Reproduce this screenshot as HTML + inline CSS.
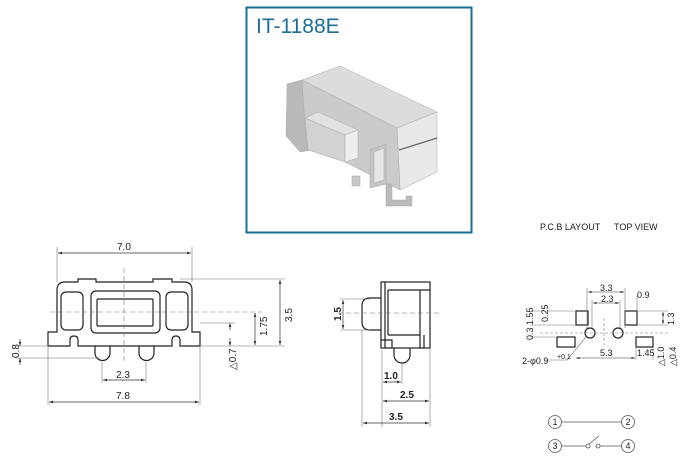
<!DOCTYPE html>
<html><head><style>
html,body{margin:0;padding:0;background:#fff;width:700px;height:468px;overflow:hidden}
svg{display:block;font-family:"Liberation Sans",Arial,sans-serif}
</style></head><body>
<svg width="700" height="468" viewBox="0 0 700 468" xmlns="http://www.w3.org/2000/svg">
<defs>
<marker id="a" markerWidth="6" markerHeight="6" refX="6" refY="3" orient="auto-start-reverse"><path d="M0,1 L6,3 L0,5z" fill="#333"/></marker>
</defs>
<!-- photo box -->
<rect x="246.5" y="7.5" width="225" height="225" fill="#fff" stroke="#1d6e93" stroke-width="2"/>
<text x="256" y="33" font-size="21" fill="#1d6e93">IT-1188E</text>
<g stroke="#aaa" stroke-width="0.5">
<polygon points="302,80 340,66 437,112 397,128" fill="#dcdcdc"/>
<polygon points="397,128 437,112 437,172 400,190" fill="#e8e8e8"/>
<line x1="399" y1="150" x2="437" y2="138" stroke="#666" stroke-width="1.2"/>
<polygon points="302,80 397,128 400,190 302,140" fill="#cbcbcb"/>
<polygon points="287,84 302,80 306,140 312,150 300,152 286,136" fill="#b9b9b9"/>
<polygon points="305,118 318,112 358,130 345,135" fill="#e2e2e2"/>
<polygon points="305,118 345,135 345,162 308,150" fill="#d2d2d2"/>
<polygon points="345,135 358,130 358,158 345,162" fill="#eeeeee"/>
<polygon points="370,150 386,144 386,184 370,188" fill="#c4c4c4"/>
<polygon points="374,152 384,148 384,180 374,183" fill="#e6e6e6"/>
<polygon points="386,184 392,184 392,200 406,200 406,196 412,196 412,206 386,206" fill="#bbbbbb"/>
<rect x="352" y="176" width="8" height="10" fill="#c8c8c8"/>
</g>
<!-- front view -->
<g fill="none" stroke="#222" stroke-width="1.2">
<path d="M57,332 V290 Q57,282 65,282 H78 V279 H96 V282 H153 V279 H172 V282 H184 Q192,282 192,290 V332 H200 V346 H180 V340 Q180,336 176,336 Q172,336 172,340 V346 H78 V340 Q78,336 74,336 Q70,336 70,340 V346 H48 V332 Z"/>
<rect x="61" y="292" width="22" height="38" rx="5"/>
<rect x="91" y="291" width="69" height="42" rx="5"/>
<rect x="97" y="299" width="56" height="27" rx="1"/>
<rect x="166" y="292" width="22" height="38" rx="5"/>
<path d="M95,346 V353 A7.5,7.5 0 0 0 110,353 V346 M139,346 V353 A7.5,7.5 0 0 0 154,353 V346"/>
</g>
<g stroke="#777" stroke-width="0.6" fill="none">
<path d="M124,268 V362 M50,312 H262" stroke-dasharray="5,3"/>
<path d="M57,247 V282 M192,247 V282 M180,279 H285 M200,346 H285 M200,323 H235 M48,346 V405 M200,346 V405 M102,362 V383 M146,362 V383 M15,346 H48 M15,358 H100"/>
</g>
<g stroke="#333" stroke-width="0.7" marker-start="url(#a)" marker-end="url(#a)">
<line x1="58" y1="253" x2="191" y2="253"/>
<line x1="280" y1="280" x2="280" y2="345"/>
<line x1="255" y1="313" x2="255" y2="345"/>
<line x1="49" y1="402" x2="199" y2="402"/>
<line x1="103" y1="380" x2="145" y2="380"/>
<line x1="230" y1="330" x2="230" y2="323" marker-start="none"/>
<line x1="230" y1="338" x2="230" y2="346" marker-start="none"/>
<line x1="20" y1="339" x2="20" y2="346" marker-start="none"/>
<line x1="20" y1="365" x2="20" y2="358" marker-start="none"/>
</g>
<g font-size="10" fill="#222">
<text x="117" y="250">7.0</text>
<text x="116" y="378">2.3</text>
<text x="116" y="399">7.8</text>
<text transform="translate(292,322) rotate(-90)">3.5</text>
<text transform="translate(267,336) rotate(-90)">1.75</text>
<text transform="translate(236,370) rotate(-90)">△0.7</text>
<text transform="translate(19,358) rotate(-90)">0.8</text>
</g>
<!-- side view -->
<g fill="none" stroke="#222" stroke-width="1.2">
<rect x="381" y="282" width="49" height="66"/>
<path d="M385,282 V348 M388,290 V335 M420,290 V335 M388,290 H430 M388,335 H420 M420,335 V348 M424,335 V348 M392,348 V340 H381"/>
<path d="M381,298 H370 Q362,298 362,306 V322 Q362,330 370,330 H381"/>
<path d="M394,348 V355 A8,8 0 0 0 410,355 V348"/>
</g>
<g stroke="#777" stroke-width="0.6" fill="none">
<path d="M338,313 H440" stroke-dasharray="5,3"/>
<path d="M340,299 H370 M340,330 H370 M362,330 V427 M382,350 V427 M402,362 V384 M430,348 V427"/>
</g>
<g stroke="#333" stroke-width="0.7" marker-start="url(#a)" marker-end="url(#a)">
<line x1="343" y1="300" x2="343" y2="329"/>
<line x1="383" y1="382" x2="401" y2="382"/>
<line x1="383" y1="401" x2="429" y2="401"/>
<line x1="363" y1="423" x2="429" y2="423"/>
</g>
<g font-size="10" fill="#222" font-weight="bold">
<text transform="translate(341,321) rotate(-90)">1.5</text>
<text x="384" y="379">1.0</text>
<text x="400" y="398">2.5</text>
<text x="389" y="420">3.5</text>
</g>
<!-- PCB layout -->
<text x="540" y="230" font-size="9" fill="#222">P.C.B LAYOUT</text>
<text x="614" y="230" font-size="9" fill="#222">TOP VIEW</text>
<g fill="#fff" stroke="#222" stroke-width="1.2">
<rect x="576" y="311" width="12" height="14"/>
<rect x="625" y="311" width="12" height="14"/>
<rect x="557" y="337" width="18" height="10"/>
<rect x="636" y="337" width="17" height="10"/>
<circle cx="590" cy="333" r="5"/>
<circle cx="618" cy="333" r="5"/>
</g>
<g stroke="#777" stroke-width="0.6" fill="none">
<path d="M604,318 V345 M540,333 H670" stroke-dasharray="3,2"/>
<path d="M587,288 V328 M625,288 V328 M592,300 V328 M620,300 V328 M637,296 V310 M530,311 H575 M530,325 H575 M530,337 H556 M637,311 H668 M637,325 H668 M653,348 V360 M636,348 V360 M567,360 L586,337 M545,360 H567"/>
</g>
<g stroke="#333" stroke-width="0.6" marker-start="url(#a)" marker-end="url(#a)">
<line x1="588" y1="292" x2="624" y2="292"/>
<line x1="593" y1="303" x2="619" y2="303"/>
<line x1="576" y1="358" x2="635" y2="358"/>
<line x1="663" y1="312" x2="663" y2="324"/>
</g>
<g font-size="9" fill="#222">
<text x="600" y="291">3.3</text>
<text x="601" y="302">2.3</text>
<text x="637" y="298">0.9</text>
<text x="600" y="356">5.3</text>
<text x="637" y="356">1.45</text>
<text x="522" y="364">2-φ0.9</text>
<text x="557" y="359" font-size="7">+0.1</text>
<text transform="translate(533,340) rotate(-90)">0.3 1.55</text>
<text transform="translate(548,322) rotate(-90)">0.25</text>
<text transform="translate(674,325) rotate(-90)">1.3</text>
<text transform="translate(664,366) rotate(-90)">△1.0</text>
<text transform="translate(676,366) rotate(-90)">△0.4</text>
</g>
<!-- schematic -->
<g fill="#fff" stroke="#555" stroke-width="0.8">
<line x1="562" y1="422" x2="621" y2="422"/>
<line x1="562" y1="446" x2="586" y2="446"/>
<line x1="600" y1="446" x2="621" y2="446"/>
<line x1="589" y1="444" x2="599" y2="436"/>
<circle cx="588" cy="446" r="2"/>
<circle cx="598" cy="446" r="2"/>
<circle cx="555" cy="422" r="6.5"/>
<circle cx="628" cy="422" r="6.5"/>
<circle cx="555" cy="446" r="6.5"/>
<circle cx="628" cy="446" r="6.5"/>
</g>
<g font-size="9" fill="#222" text-anchor="middle">
<text x="555" y="425">1</text><text x="628" y="425">2</text>
<text x="555" y="449">3</text><text x="628" y="449">4</text>
</g>
</svg>
</body></html>
